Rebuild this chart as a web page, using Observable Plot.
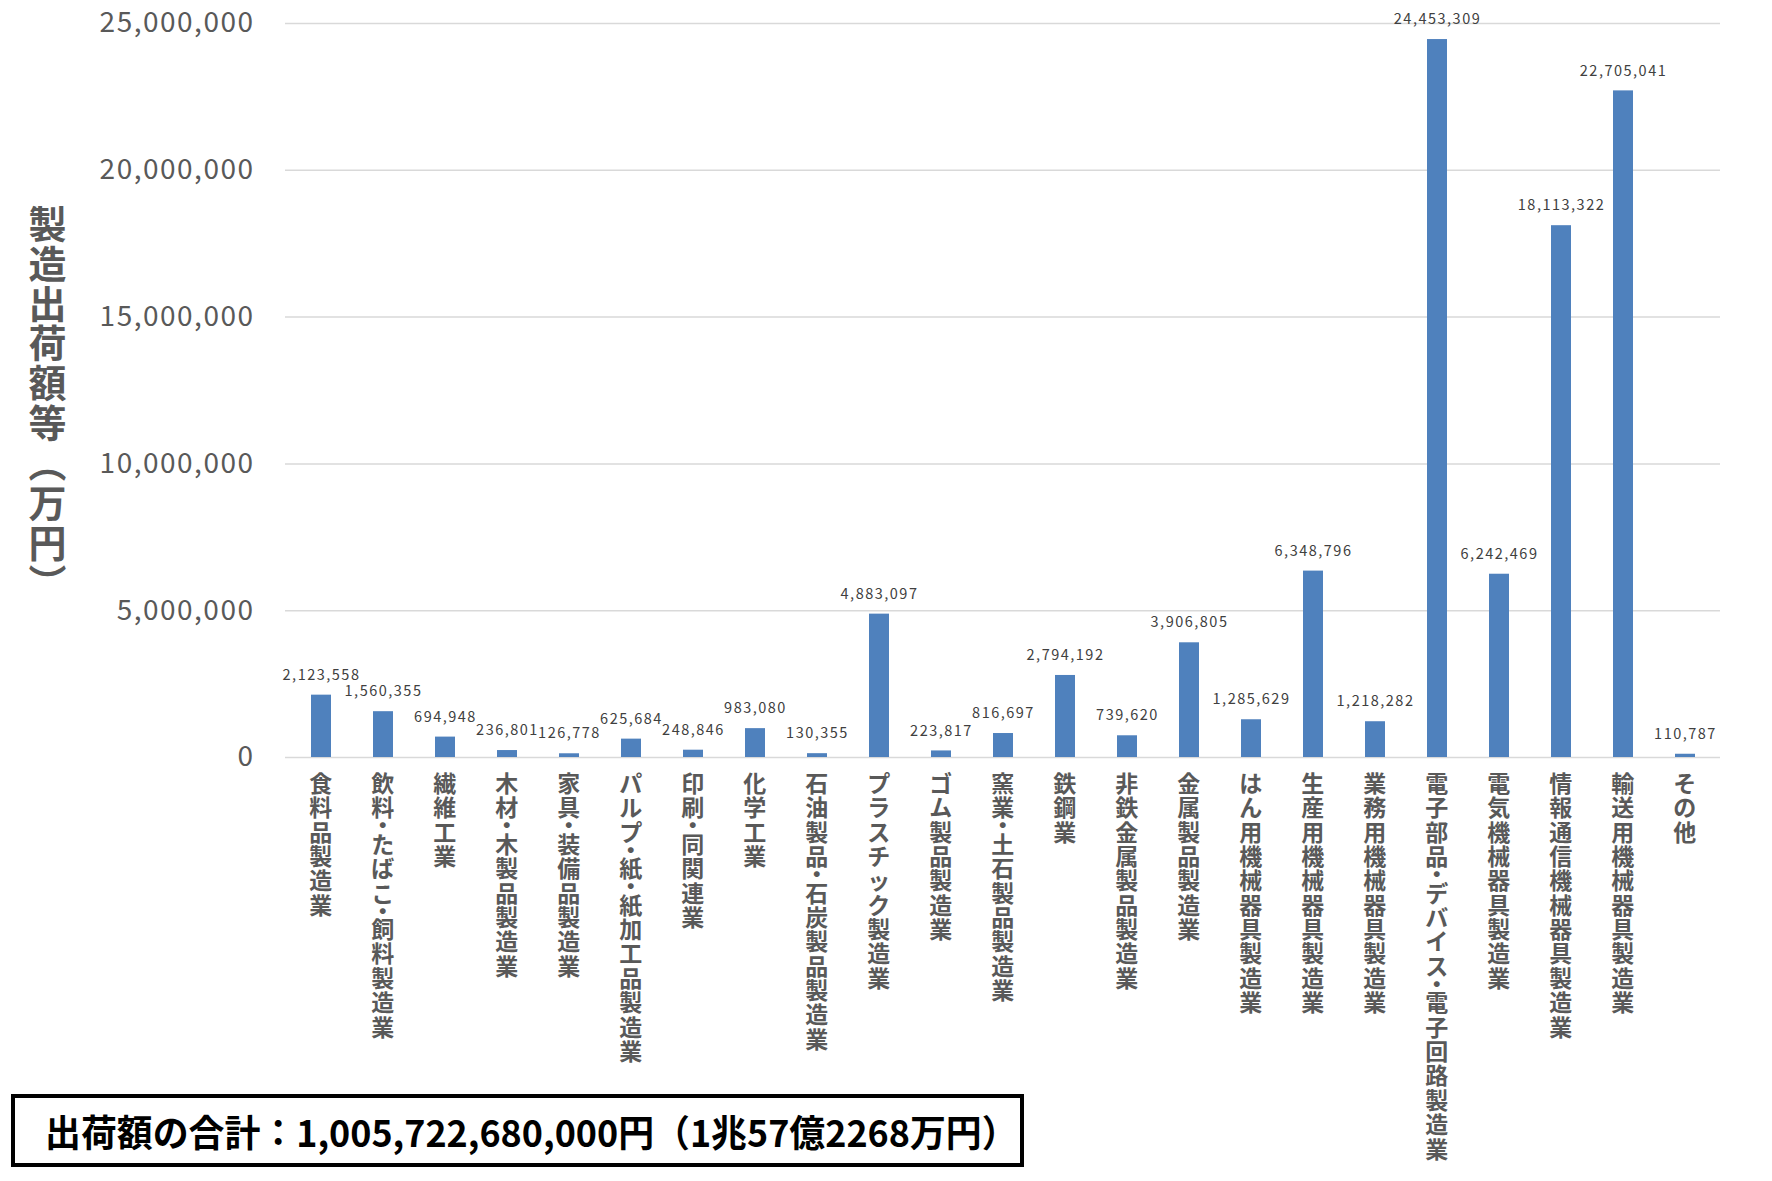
<!DOCTYPE html>
<html>
<head>
<meta charset="utf-8">
<script src="https://cdn.jsdelivr.net/npm/d3@7"></script>
<script src="https://cdn.jsdelivr.net/npm/@observablehq/plot@0.6"></script>
<style>
  html, body { margin: 0; padding: 0; background: #fff; }
  #wrap { position: relative; width: 1772px; height: 1181px; overflow: hidden; }
  #total {
    position: absolute; left: 11px; top: 1094px; width: 1013px; height: 73px;
    box-sizing: border-box; border: 4px solid #000; background: #fff;
    display: flex; align-items: center; padding-left: 30px;
    font-family: "Noto Sans CJK JP", sans-serif; font-weight: bold; color: #000;
    white-space: nowrap; overflow: hidden;
  }
  #total span { display: inline-block; font-size: 37px; transform: scaleX(0.97); transform-origin: left center; }
</style>
</head>
<body>
<div id="wrap"><div id="total"><span id="totalText"></span></div></div>
<script>
const categories = [
  "食料品製造業", "飲料・たばこ・飼料製造業", "繊維工業", "木材・木製品製造業",
  "家具・装備品製造業", "パルプ・紙・紙加工品製造業", "印刷・同関連業", "化学工業",
  "石油製品・石炭製品製造業", "プラスチック製造業", "ゴム製品製造業", "窯業・土石製品製造業",
  "鉄鋼業", "非鉄金属製品製造業", "金属製品製造業", "はん用機械器具製造業",
  "生産用機械器具製造業", "業務用機械器具製造業", "電子部品・デバイス・電子回路製造業",
  "電気機械器具製造業", "情報通信機械器具製造業", "輸送用機械器具製造業", "その他"
];
const values = [
  2123558, 1560355, 694948, 236801,
  126778, 625684, 248846, 983080,
  130355, 4883097, 223817, 816697,
  2794192, 739620, 3906805, 1285629,
  6348796, 1218282, 24453309,
  6242469, 18113322, 22705041, 110787
];
const yTicks = [0, 5000000, 10000000, 15000000, 20000000, 25000000];
const yTitle = "製造出荷額等︵万円︶";
const totalText = "出荷額の合計：1,005,722,680,000円（1兆57億2268万円）";

const data = categories.map((c, i) => ({category: c, value: values[i]}));
const fmt = d3.format(",");
const vertical = s => Array.from(s).join("\n");
const labelLineHeight = 1.06;

const chart = Plot.plot({
  width: 1772,
  height: 1181,
  marginLeft: 285,
  marginRight: 52,
  marginTop: 23,
  marginBottom: 424,
  style: {
    fontFamily: "'Noto Sans CJK JP', 'Noto Sans', sans-serif",
    fontSize: "28px",
    color: "#595959",
    background: "#fff",
    letterSpacing: "1.5px"
  },
  x: {domain: categories, paddingInner: 0.68, paddingOuter: 0.34, axis: null},
  y: {domain: [0, 25000000], ticks: yTicks, tickFormat: fmt, tickSize: 0, tickPadding: 31, label: null},
  marks: [
    Plot.ruleY(yTicks, {stroke: "#d9d9d9", strokeWidth: 1.5}),
    Plot.barY(data, {x: "category", y: "value", fill: "#4F81BD"}),
    Plot.text(data, {x: "category", y: "value", text: d => fmt(d.value), dy: -20, fontSize: 14.5, fill: "#404040"}),
    Plot.text(categories, {x: d => d, text: vertical, frameAnchor: "bottom", lineAnchor: "top", dy: 17, fontSize: 23, fontWeight: "bold", lineHeight: labelLineHeight, fill: "#595959"}),
    Plot.text([yTitle], {text: vertical, frameAnchor: "left", dx: -257, dy: 14, lineAnchor: "middle", fontSize: 38, fontWeight: "bold", lineHeight: 1.05, fill: "#595959"})
  ]
});

// tighten the vertical space around middle dots (as in vertical Japanese typesetting)
d3.select(chart).selectAll("tspan").each(function() {
  if (this.textContent === "・") {
    const half = (labelLineHeight * 0.75) + "em";
    this.setAttribute("dy", half);
    const next = this.nextElementSibling;
    if (next) next.setAttribute("dy", half);
  }
});

const wrap = document.getElementById("wrap");
wrap.insertBefore(chart, wrap.firstChild);
document.getElementById("totalText").textContent = totalText;
</script>
</body>
</html>
